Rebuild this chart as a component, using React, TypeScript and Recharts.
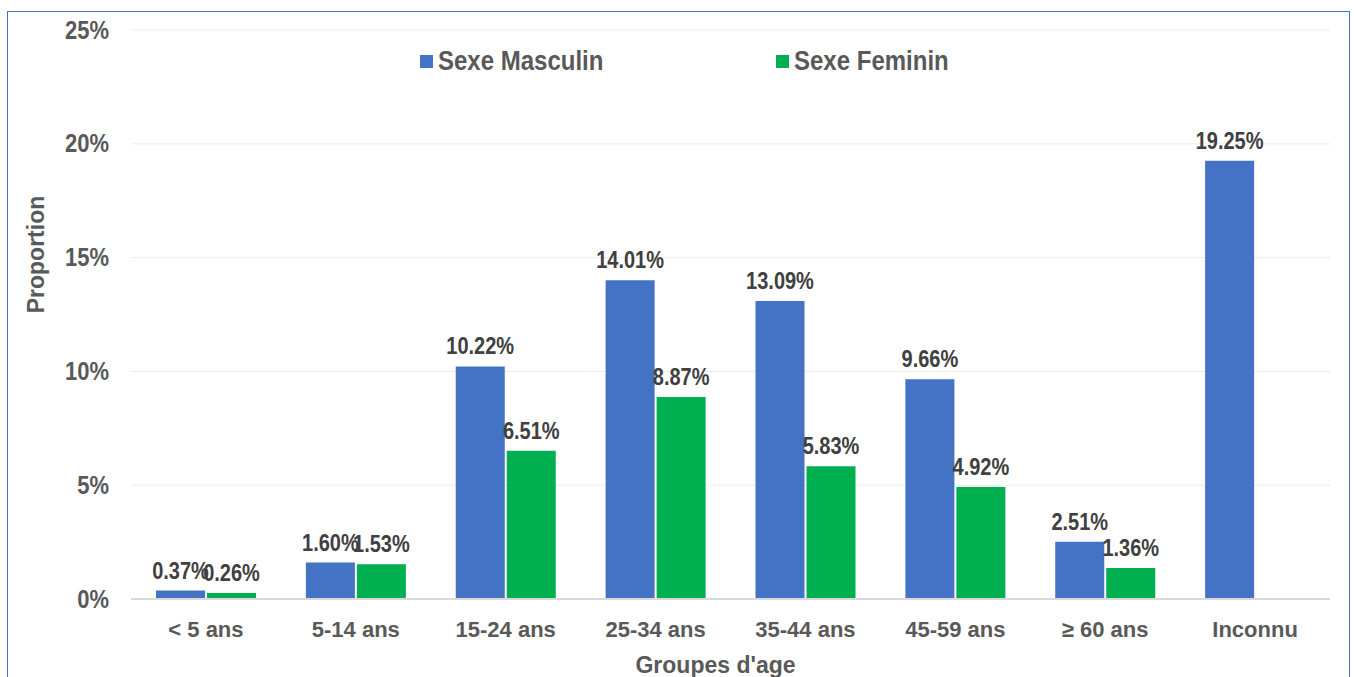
import React from "react"
import { BarChart, Bar, XAxis, YAxis, CartesianGrid, Legend, LabelList } from "recharts"

const groups = ["< 5 ans", "5-14 ans", "15-24 ans", "25-34 ans", "35-44 ans", "45-59 ans", "≥ 60 ans", "Inconnu"]
const masculin = [0.37, 1.6, 10.22, 14.01, 13.09, 9.66, 2.51, 19.25]
const feminin: (number | null)[] = [0.26, 1.53, 6.51, 8.87, 5.83, 4.92, 1.36, null]
const yTicks = [0, 5, 10, 15, 20, 25]
const seriesOrder = ["Sexe Masculin", "Sexe Feminin"]

const data = groups.map((g, i) => ({ group: g, masculin: masculin[i], feminin: feminin[i] }))

const SANS = '"Liberation Sans", Arial, sans-serif'
const BLUE = "#4472C4"
const GREEN = "#00B050"

const fmt = (v: any) => (v === null || v === undefined ? "" : `${Number(v).toFixed(2)}%`)

const legendLeft = [420, 776]

const renderLegend = (props: any) => {
    const items = [...(props.payload || [])].sort(
        (a: any, b: any) => seriesOrder.indexOf(a.value) - seriesOrder.indexOf(b.value),
    )
    return (
        <div style={{ position: "relative", width: 1354, height: 30 }}>
            {items.map((entry: any, i: number) => (
                <div
                    key={entry.value}
                    style={{
                        position: "absolute",
                        left: legendLeft[i],
                        top: 0,
                        display: "flex",
                        alignItems: "center",
                        fontFamily: SANS,
                        fontWeight: 700,
                        fontSize: 24,
                        color: "#595959",
                        whiteSpace: "nowrap",
                    }}
                >
                    <span style={{ display: "inline-block", width: 13, height: 13, background: entry.color, marginRight: 5 }} />
                    <span style={{ display: "inline-block", transform: "scaleY(1.12)" }}>{entry.value}</span>
                </div>
            ))}
        </div>
    )
}

const DataLabel = (props: any) => {
    const { x, y, width, value } = props
    if (value === null || value === undefined) return null
    const cx = x + width / 2
    const by = y - 12
    return (
        <text
            x={cx}
            y={by}
            textAnchor="middle"
            transform={`translate(0 ${by}) scale(1 1.17) translate(0 ${-by})`}
            fontFamily={SANS}
            fontWeight={700}
            fontSize={20}
            fill="#404040"
        >
            {fmt(value)}
        </text>
    )
}

const YTick = (props: any) => {
    const { x, y, payload } = props
    return (
        <text
            x={x}
            y={y}
            textAnchor="end"
            dominantBaseline="central"
            transform={`translate(0 ${y}) scale(1 1.15) translate(0 ${-y})`}
            fontFamily={SANS}
            fontWeight={700}
            fontSize={22}
            fill="#595959"
        >
            {`${payload.value}%`}
        </text>
    )
}

const YLabel = (props: any) => {
    const { viewBox } = props
    const x = viewBox.x + 36
    const y = viewBox.y + viewBox.height / 2 - 60
    return (
        <text
            x={x}
            y={y}
            transform={`rotate(-90, ${x}, ${y})`}
            textAnchor="middle"
            dominantBaseline="central"
            fontFamily={SANS}
            fontWeight={700}
            fontSize={23}
            fill="#595959"
        >
            Proportion
        </text>
    )
}

export default function App() {
    return (
        <div style={{ position: "relative", width: 1354, height: 677, overflow: "hidden", background: "#fff" }}>
            <style>{"body{margin:0}"}</style>
            <div
                style={{
                    position: "absolute",
                    left: 7,
                    top: 11,
                    width: 1343,
                    height: 700,
                    boxSizing: "border-box",
                    border: `1.5px solid ${BLUE}`,
                }}
            />
            <BarChart
                width={1354}
                height={677}
                data={data}
                margin={{ top: 30, right: 24, left: 0, bottom: 0 }}
                barCategoryGap={25}
                barGap={2}
                style={{ position: "absolute", left: 0, top: 0 }}
            >
                <CartesianGrid vertical={false} stroke="#ebebeb" />
                <XAxis
                    dataKey="group"
                    height={78}
                    tickSize={0}
                    tickMargin={22}
                    axisLine={{ stroke: "#d9d9d9", strokeWidth: 2 }}
                    tickLine={false}
                    tick={{ fontFamily: SANS, fontSize: 22, fontWeight: 700, fill: "#595959" }}
                    interval={0}
                    label={{
                        value: "Groupes d'age",
                        position: "insideBottom",
                        offset: 4,
                        dx: -15,
                        style: { fontFamily: SANS, fontSize: 23, fontWeight: 700, fill: "#595959" },
                    }}
                />
                <YAxis
                    width={131}
                    domain={[0, 25]}
                    ticks={yTicks}
                    axisLine={false}
                    tickLine={false}
                    tickSize={0}
                    tickMargin={22}
                    tick={<YTick />}
                    label={<YLabel />}
                />
                <Legend verticalAlign="middle" align="center" content={renderLegend} wrapperStyle={{ top: 47, left: 0, width: 1354 }} />
                <Bar dataKey="masculin" name="Sexe Masculin" fill={BLUE} isAnimationActive={false}>
                    <LabelList dataKey="masculin" content={<DataLabel />} />
                </Bar>
                <Bar dataKey="feminin" name="Sexe Feminin" fill={GREEN} isAnimationActive={false}>
                    <LabelList dataKey="feminin" content={<DataLabel />} />
                </Bar>
            </BarChart>
        </div>
    )
}
